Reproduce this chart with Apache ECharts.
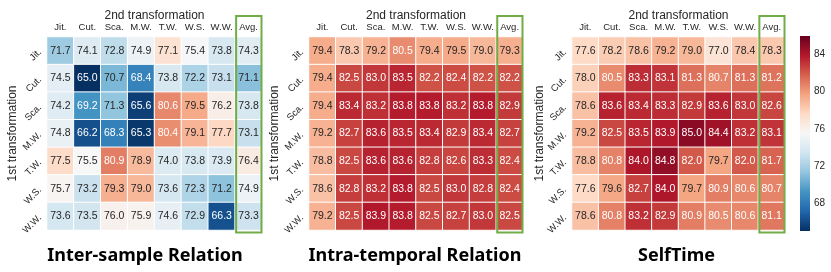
<!DOCTYPE html>
<html><head><meta charset="utf-8">
<script src="https://cdn.jsdelivr.net/npm/echarts@6/dist/echarts.min.js"></script>
<style>html,body{margin:0;padding:0;background:#fff}#c{width:831px;height:272px}</style>
</head><body><div id="c"></div>
<script>
const rowLabels = ['Jit.', 'Cut.', 'Sca.', 'M.W.', 'T.W.', 'W.S.', 'W.W.'];
const colLabels = ['Jit.', 'Cut.', 'Sca.', 'M.W.', 'T.W.', 'W.S.', 'W.W.', 'Avg.'];

const interSample = [
  [71.7, 74.1, 72.8, 74.9, 77.1, 75.4, 73.8, 74.3],
  [74.5, 65.0, 70.7, 68.4, 73.8, 72.2, 73.1, 71.1],
  [74.2, 69.2, 71.3, 65.6, 80.6, 79.5, 76.2, 73.8],
  [74.8, 66.2, 68.3, 65.3, 80.4, 79.1, 77.7, 73.1],
  [77.5, 75.5, 80.9, 78.9, 74.0, 73.8, 73.9, 76.4],
  [75.7, 73.2, 79.3, 79.0, 73.6, 72.3, 71.2, 74.9],
  [73.6, 73.5, 76.0, 75.9, 74.6, 72.9, 66.3, 73.3]
];
const intraTemporal = [
  [79.4, 78.3, 79.2, 80.5, 79.4, 79.5, 79.0, 79.3],
  [79.4, 82.5, 83.0, 83.5, 82.2, 82.4, 82.2, 82.2],
  [79.4, 83.4, 83.2, 83.8, 83.8, 83.2, 83.8, 82.9],
  [79.2, 82.7, 83.6, 83.5, 83.4, 82.9, 83.4, 82.7],
  [78.8, 82.5, 83.6, 83.6, 82.8, 82.6, 83.3, 82.4],
  [78.6, 82.8, 83.2, 83.8, 82.5, 83.0, 82.8, 82.4],
  [79.2, 82.5, 83.9, 83.8, 82.5, 82.7, 83.0, 82.5]
];
const selfTime = [
  [77.6, 78.2, 78.6, 79.2, 79.0, 77.0, 78.4, 78.3],
  [78.0, 80.5, 83.3, 83.1, 81.3, 80.7, 81.3, 81.2],
  [78.6, 83.6, 83.4, 83.3, 82.9, 83.6, 83.0, 82.6],
  [79.2, 82.5, 83.5, 83.9, 85.0, 84.4, 83.2, 83.1],
  [78.8, 80.8, 84.0, 84.8, 82.0, 79.7, 82.0, 81.7],
  [77.6, 79.6, 82.7, 84.0, 79.7, 80.9, 80.6, 80.7],
  [78.6, 80.8, 83.2, 82.9, 80.9, 80.5, 80.6, 81.1]
];
const panelTitles = ['Inter-sample Relation', 'Intra-temporal Relation', 'SelfTime'];
const colorMin = 65, colorMax = 86;
const colorTicks = [68, 72, 76, 80, 84];

const rdbuR = ['#053061', '#2166ac', '#4393c3', '#92c5de', '#d1e5f0', '#f7f7f7',
               '#fddbc7', '#f4a582', '#d6604d', '#b2182b', '#67001f'];

const panels = [interSample, intraTemporal, selfTime];
const gridPos = [{ left: 47, width: 215 }, { left: 309, width: 214 }, { left: 572, width: 213 }];
const nameGaps = [28, 28, 26];
const titleX = [145, 415, 676.5];
const gridTop = 37, gridH = 193;
const font = '"Liberation Sans", Arial, sans-serif';
const txt = '#262626';

function toData(m) {
  const out = [];
  m.forEach((row, r) => row.forEach((v, c) => out.push({
    value: [c, r, v],
    label: { color: (v > 80 || v < 70) ? '#ffffff' : txt }
  })));
  return out;
}

const chart = echarts.init(document.getElementById('c'), null, { renderer: 'canvas' });

const grid = [], xAxis = [], yAxis = [], series = [];
panels.forEach((m, i) => {
  grid.push({ left: gridPos[i].left, width: gridPos[i].width, top: gridTop, height: gridH });
  xAxis.push({
    type: 'category', data: colLabels, gridIndex: i, position: 'top',
    axisLine: { show: false }, axisTick: { show: false }, splitLine: { show: false },
    axisLabel: { interval: 0, fontSize: 9.5, color: txt, margin: 5, fontFamily: font },
    name: '2nd transformation', nameLocation: 'middle', nameGap: 15, nameMoveOverlap: false,
    nameTextStyle: { fontSize: 12, color: txt, fontFamily: font }
  });
  yAxis.push({
    type: 'category', data: rowLabels, gridIndex: i, inverse: true,
    axisLine: { show: false }, axisTick: { show: false }, splitLine: { show: false },
    axisLabel: { interval: 0, fontSize: 9.5, color: txt, margin: 7, rotate: 45, fontFamily: font },
    name: '1st transformation', nameLocation: 'middle', nameRotate: 90, nameGap: nameGaps[i],
    nameMoveOverlap: false,
    nameTextStyle: { fontSize: 12, color: txt, fontFamily: font }
  });
  series.push({
    type: 'heatmap', xAxisIndex: i, yAxisIndex: i, data: toData(m),
    label: {
      show: true, fontSize: 10.5, fontFamily: font,
      formatter: p => p.value[2].toFixed(1)
    },
    itemStyle: { borderColor: '#ffffff', borderWidth: 1 },
    emphasis: { disabled: true }, silent: true
  });
});

// colour bar
grid.push({ left: 800, width: 10, top: 36, height: 195 });
xAxis.push({ type: 'category', data: [''], gridIndex: 3, show: false });
yAxis.push({
  type: 'value', gridIndex: 3, min: colorMin, max: colorMax, position: 'right',
  axisLine: { show: false }, axisTick: { show: false }, splitLine: { show: false },
  axisLabel: { customValues: colorTicks, fontSize: 10, color: txt, margin: 4, fontFamily: font }
});
series.push({
  type: 'bar', xAxisIndex: 3, yAxisIndex: 3, stack: 'cb', barWidth: '100%', silent: true,
  data: [colorMin], itemStyle: { color: 'rgba(0,0,0,0)' }
});
series.push({
  type: 'bar', xAxisIndex: 3, yAxisIndex: 3, stack: 'cb', barWidth: '100%', silent: true,
  data: [colorMax - colorMin],
  itemStyle: {
    color: {
      type: 'linear', x: 0, y: 1, x2: 0, y2: 0,
      colorStops: rdbuR.map((c, k) => ({ offset: k / (rdbuR.length - 1), color: c }))
    }
  }
});

chart.setOption({
  animation: false,
  backgroundColor: '#ffffff',
  grid, xAxis, yAxis, series,
  visualMap: {
    type: 'continuous', show: false, min: colorMin, max: colorMax,
    seriesIndex: [0, 1, 2], dimension: 2, inRange: { color: rdbuR }
  }
});

// annotation frames around the Avg. column + panel titles
const graphics = [];
panels.forEach((m, i) => {
  const last = colLabels[colLabels.length - 1];
  const prev = colLabels[colLabels.length - 2];
  const pA = chart.convertToPixel({ gridIndex: i }, [last, rowLabels[0]]);
  const pB = chart.convertToPixel({ gridIndex: i }, [prev, rowLabels[1]]);
  const pC = chart.convertToPixel({ gridIndex: i }, [last, rowLabels[rowLabels.length - 1]]);
  const cw = pA[0] - pB[0];
  const ch = pB[1] - pA[1];
  const top = pA[1] - ch / 2;
  const bottom = pC[1] + ch / 2;
  graphics.push({
    type: 'rect', silent: true, z: 100,
    shape: { x: pA[0] - cw / 2 + 1, y: top - 21, width: cw - 1.5, height: bottom - top + 23.5 },
    style: { fill: null, stroke: '#70ad47', lineWidth: 2 }
  });
  graphics.push({
    type: 'text', silent: true, x: titleX[i], y: 256,
    style: {
      text: panelTitles[i], fontSize: 18, fontWeight: 'bold', fontFamily: '"Noto Sans", sans-serif',
      fill: '#000000', align: 'center', verticalAlign: 'middle'
    }
  });
});
chart.setOption({ graphic: graphics });
</script>
</body></html>
